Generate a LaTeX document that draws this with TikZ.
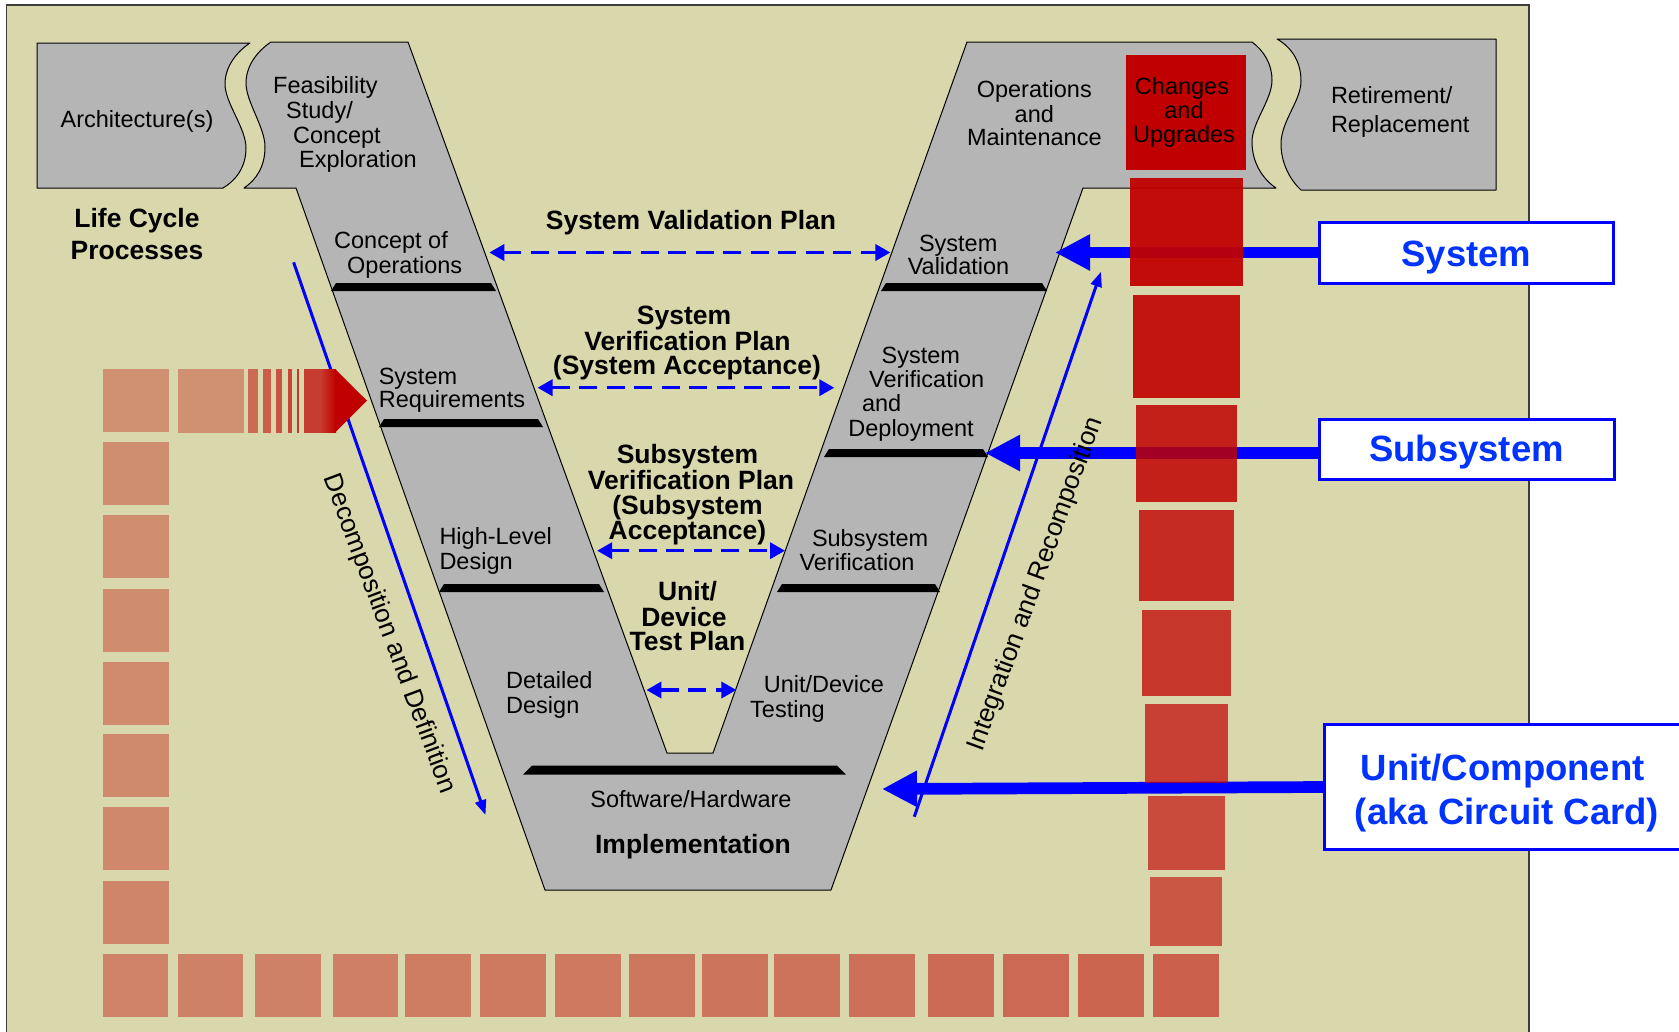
\documentclass[tikz,border=0pt]{standalone}
\usepackage{fontspec}
\setmainfont{Liberation Sans}
\usetikzlibrary{arrows.meta}
\definecolor{khaki}{RGB}{217,216,172}
\definecolor{vgray}{RGB}{180,181,180}
\definecolor{cred}{RGB}{192,0,0}
\definecolor{vblue}{RGB}{0,0,255}
\definecolor{tblue}{RGB}{0,51,255}
\definecolor{frameline}{RGB}{60,60,60}

\begin{document}
\begin{tikzpicture}[x=1pt,y=-1pt,
  stage/.style={fill=vgray, draw=black, line width=1pt, line join=round},
  lbl/.style={font=\fontsize{23.5}{23.5}\selectfont, inner sep=0pt, yshift=-4.5pt},
  blbl/.style={font=\fontsize{26.5}{26.5}\selectfont\bfseries, inner sep=0pt, yshift=-5.5pt},
  rlbl/.style={font=\fontsize{26}{26}\selectfont, inner sep=0pt},
  tag/.style={draw=vblue, line width=3pt, fill=white, inner sep=0pt},
  tagtext/.style={font=\fontsize{36.5}{44}\selectfont\bfseries, text=tblue, inner sep=0pt},
  planarrow/.style={vblue, line width=3.5pt, dash pattern=on 18pt off 9.5pt,
    {Triangle[length=15pt,width=16pt]}-{Triangle[length=15pt,width=16pt]}},
  flowarrow/.style={vblue, line width=3pt, -{Triangle[length=15pt,width=11pt]}},
  levelarrow/.style={vblue, line width=11.7pt, -{Triangle[length=35pt,width=34pt]}},
  brick/.style={fill=cred, fill opacity=#1},
]
\clip (0,0) rectangle (1679,1031);
\fill[white] (0,0) rectangle (1679,1031);
% framed background
\draw[fill=khaki, draw=frameline, line width=1.5pt] (6.5,5) rectangle (1529,1045);

% ---- grey life-cycle shapes ----
\path[stage] (37,43) -- (250,43)
  .. controls (235,53) and (225,68) .. (225,84)
  .. controls (225,103) and (246,128) .. (246,148)
  .. controls (246,168) and (235,181) .. (223,188)
  -- (37,188) -- cycle;

\path[stage] (271,42) -- (408,42) -- (667,753) -- (713,753) -- (967,42) -- (1252,42)
  .. controls (1264,51) and (1272,64) .. (1272,80)
  .. controls (1272,100) and (1252,122) .. (1252,142)
  .. controls (1252,164) and (1264,180) .. (1276,188)
  -- (1083,188) -- (831,890) -- (545,890) -- (296,188) -- (244,188)
  .. controls (256,180) and (265,167) .. (265,147)
  .. controls (265,127) and (246,102) .. (246,83)
  .. controls (246,67) and (256,52) .. (271,42) -- cycle;

\path[stage] (1496,39) -- (1277,39)
  .. controls (1291,47) and (1301,61) .. (1301,81)
  .. controls (1301,101) and (1281,121) .. (1281,144)
  .. controls (1281,164) and (1291,181) .. (1301,190)
  -- (1496,190) -- cycle;

% stage separators
\foreach \a/\b/\y in {331/496/287, 379/543/423, 439/604/588,
                      881/1047/287, 824/988/453, 777/940/588}
  \fill[black] (\a,\y+4) -- (\b,\y+4) -- (\b-5,\y-4) -- (\a+5,\y-4) -- cycle;
\fill[black] (523,774.5) -- (846,774.5) -- (837,765.5) -- (532,765.5) -- cycle;

% ---- stage labels ----
\node[lbl] (arch) at (137,116.5) {Architecture(s)};
\node[lbl, anchor=mid west] (feas1) at (273,86) {Feasibility};
\node[lbl, anchor=mid west] (feas2) at (286,111) {Study/};
\node[lbl, anchor=mid west] (feas3) at (293,136) {Concept};
\node[lbl, anchor=mid west] (feas4) at (299,160.3) {Exploration};
\node[lbl, anchor=mid west] (conops1) at (334,241) {Concept of};
\node[lbl, anchor=mid west] (conops2) at (347,266) {Operations};
\node[lbl, anchor=mid west] (sysreq1) at (378.6,377.5) {System};
\node[lbl, anchor=mid west] (sysreq2) at (378.6,400) {Requirements};
\node[lbl, anchor=mid west] (hld1) at (439.3,537.7) {High-Level};
\node[lbl, anchor=mid west] (hld2) at (439.3,562.5) {Design};
\node[lbl, anchor=mid west] (dd1) at (506,681) {Detailed};
\node[lbl, anchor=mid west] (dd2) at (506,706) {Design};
\node[lbl, anchor=mid] (swhw) at (691,800) {Software/Hardware};
\node[blbl, anchor=mid] (impl) at (693,845.5) {Implementation};
\node[lbl, anchor=mid] (om1) at (1034.3,90.3) {Operations};
\node[lbl, anchor=mid] (om2) at (1034.3,115) {and};
\node[lbl, anchor=mid] (om3) at (1034.3,138.7) {Maintenance};
\node[lbl, anchor=mid west] (ret1) at (1330.8,96) {Retirement/};
\node[lbl, anchor=mid west] (ret2) at (1330.8,125) {Replacement};
\node[lbl, anchor=mid] (sval1) at (958.2,244.3) {System};
\node[lbl, anchor=mid] (sval2) at (958.5,267.7) {Validation};
\node[lbl, anchor=mid west] (sver1) at (881.4,356) {System};
\node[lbl, anchor=mid west] (sver2) at (869,380.3) {Verification};
\node[lbl, anchor=mid west] (sver3) at (861.8,404.3) {and};
\node[lbl, anchor=mid west] (sver4) at (848.2,429.3) {Deployment};
\node[lbl, anchor=mid west] (subv1) at (811.8,539.3) {Subsystem};
\node[lbl, anchor=mid west] (subv2) at (799.3,563.7) {Verification};
\node[lbl, anchor=mid west] (udt1) at (763.6,685) {Unit/Device};
\node[lbl, anchor=mid west] (udt2) at (750,710.3) {Testing};

\node[blbl, anchor=mid] (lcp1) at (137,219.3) {Life Cycle};
\node[blbl, anchor=mid] (lcp2) at (137,251) {Processes};

% ---- test plans between the two arms ----
\node[blbl, anchor=mid] (svp) at (691,221) {System Validation Plan};
\node[blbl, anchor=mid] (sverp1) at (684,316) {System};
\node[blbl, anchor=mid] (sverp2) at (687.5,342) {Verification Plan};
\node[blbl, anchor=mid] (sverp3) at (687,366.5) {(System Acceptance)};
\node[blbl, anchor=mid] (subvp1) at (687.5,455) {Subsystem};
\node[blbl, anchor=mid] (subvp2) at (691,481) {Verification Plan};
\node[blbl, anchor=mid] (subvp3) at (687.5,506) {(Subsystem};
\node[blbl, anchor=mid] (subvp4) at (687.5,531) {Acceptance)};
\node[blbl, anchor=mid] (udtp1) at (687.5,592.5) {Unit/};
\node[blbl, anchor=mid] (udtp2) at (684,618) {Device};
\node[blbl, anchor=mid] (udtp3) at (687.5,642.5) {Test Plan};

\coordinate (svpL) at (489.3,252.5);  \coordinate (svpR) at (890.4,252.5);
\coordinate (sverL) at (537.5,387.7); \coordinate (sverR) at (834.3,387.7);
\coordinate (subL) at (597.1,550.7);  \coordinate (subR) at (785,550.7);
\coordinate (udtL) at (646.4,690);    \coordinate (udtR) at (736.4,690);
\draw[planarrow] (svpL) -- (svpR);
\draw[planarrow] (sverL) -- (sverR);
\draw[planarrow] (subL) -- (subR);
\draw[planarrow] (udtL) -- (udtR);

% ---- level tags and their arrows ----
\node[tag, minimum width=294pt, minimum height=61pt] (sysbox) at (1466.5,252.5) {};
\node[tag, minimum width=295pt, minimum height=60pt] (subbox) at (1466.5,449) {};
\node[tag, minimum width=400pt, minimum height=124.5pt, anchor=west] (unitbox) at (1323,787) {};
\coordinate (systip) at (1055,252.5);
\coordinate (subtip) at (985,453);
\coordinate (unittip) at (882,789);
\draw[levelarrow] (sysbox.west) -- (systip);
\draw[levelarrow] (subbox.west |- subtip) -- (subtip);
\draw[levelarrow] (unitbox.west) -- (unittip);

% ---- decomposition / integration flows ----
\coordinate (decA) at (293.6,262.3); \coordinate (decB) at (485.5,815);
\coordinate (intA) at (914.3,816.7); \coordinate (intB) at (1101,271.7);
\draw[flowarrow] (decA) -- (decB);
\draw[flowarrow] (intA) -- (intB);
\node[rlbl, rotate=-69.5] (decomp) at (389,634) {Decomposition and Definition};
\node[rlbl, rotate=70] (integ) at (1036,584) {Integration and Recomposition};

% ---- path of bricks ----
\foreach \y/\a in {369/.335, 442/.34, 515/.345, 589/.35, 662/.355, 734/.36, 807/.37, 881/.38}
  \fill[brick=\a] (102.8,\y) rectangle ++(65.8,63);
\foreach \x/\a in {102.8/.39, 177.8/.40, 255/.40, 332.5/.41, 405/.42, 480/.43, 555/.44,
                   629/.45, 702/.46, 774/.47, 849/.48, 928/.50, 1003/.51, 1078/.53, 1153/.55}
  \fill[brick=\a] (\x,954) rectangle ++(65.5,63);
\fill[brick=.60] (1149.8,877) rectangle (1222,945.7);
\fill[brick=.65] (1147.9,796) rectangle (1224.9,870);
\fill[brick=.70] (1145,704) rectangle (1227.7,783.3);
\fill[brick=.75] (1141.9,610) rectangle (1230.9,695.7);
\fill[brick=.80] (1139,510) rectangle (1234.1,600.7);
\fill[brick=.85] (1135.8,405) rectangle (1236.9,501.7);
\fill[brick=.90] (1132.9,295) rectangle (1240,397.7);
\fill[brick=.94] (1129.5,178.3) rectangle (1242.9,285.7);

% top row leading into the requirements stage
\fill[brick=.335] (178,369) rectangle (244,432.5);
\foreach \a/\b/\o in {248/257.7/.50, 263/270.7/.56, 276/282/.62, 288/292/.68, 296.7/299/.74}
  \fill[brick=\o] (\a,369) rectangle (\b,432.5);
\fill[cred!72!khaki] (303.7,369) rectangle (320,432.5);
\shade[left color=cred!72!khaki, right color=cred] (320,369) rectangle (336,432.5);
\fill[cred] (335,369) -- (367,400.7) -- (335,432.5) -- cycle;

% changes box
\node[fill=cred, minimum width=120.5pt, minimum height=115pt, inner sep=0pt] (chgbox) at (1185.8,112.5) {};
\node[lbl, anchor=mid] (chg1) at (1182,87) {Changes};
\node[lbl, anchor=mid] (chg2) at (1184,111) {and};
\node[lbl, anchor=mid] (chg3) at (1184,135) {Upgrades};

% tag texts
\node[tagtext, anchor=mid] (systext) at (1466.5,264) {System};
\node[tagtext, anchor=mid] (subtext) at (1466.5,459) {Subsystem};
\node[tagtext, anchor=mid] (unit1) at (1502.7,778) {Unit/Component};
\node[tagtext, anchor=mid] (unit2) at (1507,821.5) {(aka Circuit Card)};
\end{tikzpicture}
\end{document}
